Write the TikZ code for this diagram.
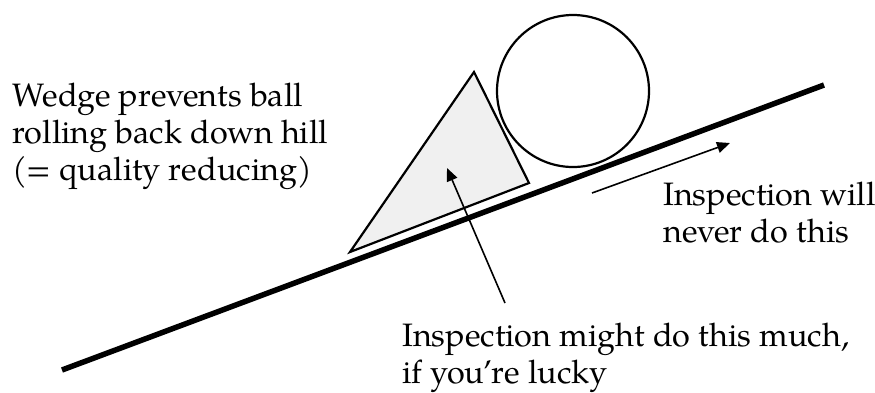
\documentclass[tikz,border=0pt]{standalone}
\usepackage{fontspec}
\setmainfont{TeX Gyre Pagella}
\usetikzlibrary{arrows.meta}
\definecolor{wedgefill}{RGB}{240,240,240}
\tikzset{
  lbl/.style={anchor=base west, inner sep=0pt, align=left, font=\fontsize{32.4}{37}\selectfont},
  outline/.style={line width=2.2pt, line join=miter},
  pointer/.style={line width=1.6pt, -{Triangle[length=13pt,width=11pt]}},
  hill/.style={line width=5.5pt}
}
\begin{document}
\begin{tikzpicture}[x=1pt,y=-1pt]
\useasboundingbox (0,0) rectangle (875,392);
\coordinate (hillL) at (62,370);
\coordinate (hillR) at (824,85);
\draw[hill] (hillL) -- (hillR);
\coordinate (wA) at (474,72);
\coordinate (wB) at (529,183);
\coordinate (wC) at (350,252);
\draw[outline, fill=wedgefill] (wA) -- (wB) -- (wC) -- cycle;
\node[draw, circle, line width=2.2pt, minimum size=152pt, inner sep=0pt] (ball) at (573,91) {};
\coordinate (a1s) at (505,303);
\coordinate (a1e) at (447,168);
\draw[pointer] (a1s) -- (a1e);
\coordinate (a2s) at (592,193);
\coordinate (a2e) at (730,143);
\draw[pointer] (a2s) -- (a2e);
\node[lbl] (wedgetxt) at (12,180) {Wedge prevents ball\\rolling back down hill\\(= quality reducing)};
\node[lbl] (nevertxt) at (663,242) {Inspection will\\never do this};
\node[lbl] (mighttxt) at (402,383) {Inspection might do this much,\\if you’re lucky};
\end{tikzpicture}
\end{document}
